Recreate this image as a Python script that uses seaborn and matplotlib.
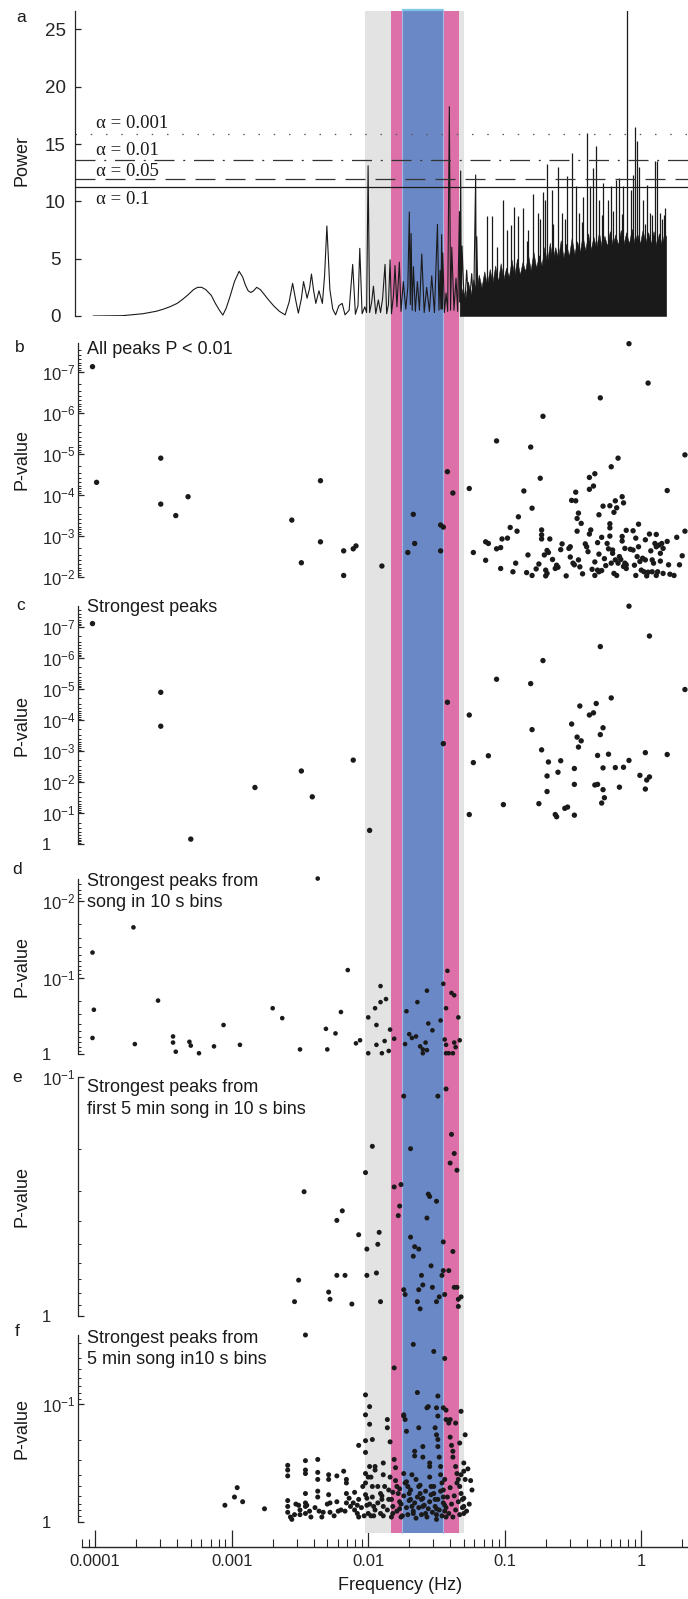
import numpy as np
import matplotlib
matplotlib.use("Agg")
import matplotlib.pyplot as plt
import seaborn as sns
from matplotlib.ticker import (FixedLocator, LogLocator, FuncFormatter,
                               NullFormatter, FixedFormatter, NullLocator)

# ---------------- data (log10 units) ----------------
# frequency bands (Hz)
grey_band = (0.00948, 0.0503)
pink_band = (0.01469, 0.0463)
blue_band = (0.01759, 0.0351)

# significance thresholds of the periodogram
alpha_labels = ["α = 0.001", "α = 0.01", "α = 0.05", "α = 0.1"]
alpha_power = [15.87, 13.57, 11.92, 11.22]
alpha_label_power = [16.83, 14.41, 12.58, 10.2]

# periodogram, low/mid frequency part: (log10 f, power)
spec_line = [
    (-4.016, 0.0), (-3.80, 0.03), (-3.65, 0.2), (-3.55, 0.42), (-3.50, 0.6),
    (-3.45, 0.82), (-3.40, 1.1), (-3.36, 1.45), (-3.32, 1.85), (-3.28, 2.3),
    (-3.25, 2.5), (-3.22, 2.5), (-3.19, 2.3), (-3.15, 1.8), (-3.12, 1.1),
    (-3.09, 0.5), (-3.065, 0.08), (-3.04, 0.7), (-3.01, 1.8), (-2.98, 3.0),
    (-2.946, 3.9), (-2.92, 3.4), (-2.90, 2.7), (-2.88, 2.2), (-2.86, 2.05),
    (-2.84, 2.2), (-2.817, 2.5), (-2.79, 2.3), (-2.77, 2.0), (-2.73, 1.4),
    (-2.69, 0.85), (-2.65, 0.4), (-2.609, 0.1), (-2.58, 1.2), (-2.554, 2.85),
    (-2.53, 1.3), (-2.512, 0.25), (-2.49, 1.5), (-2.474, 3.0), (-2.46, 2.2),
    (-2.448, 1.55), (-2.43, 2.4), (-2.416, 3.66), (-2.40, 2.2), (-2.384, 1.1),
    (-2.361, 2.2), (-2.336, 1.1), (-2.32, 3.5), (-2.303, 7.85), (-2.29, 4.5),
    (-2.281, 2.3), (-2.26, 0.6), (-2.239, 0.1),
    (-2.215, 0.9), (-2.191, 1.1), (-2.17, 0.1), (-2.14, 0.5), (-2.114, 4.5),
    (-2.094, 0.15), (-2.075, 0.9), (-2.062, 5.9), (-2.045, 0.2), (-2.025, 0.8),
    (-2.012, 0.3), (-2.001, 13.1), (-1.99, 0.3), (-1.975, 1.2), (-1.962, 2.6),
    (-1.945, 0.2), (-1.926, 1.4), (-1.91, 0.3), (-1.895, 1.5), (-1.877, 4.5),
    (-1.865, 0.2), (-1.852, 1.0), (-1.840, 4.9), (-1.83, 0.2), (-1.815, 1.8),
    (-1.804, 4.4), (-1.790, 0.8), (-1.772, 4.7), (-1.760, 0.4), (-1.743, 3.0),
    (-1.725, 0.6), (-1.710, 2.5), (-1.699, 9.07), (-1.692, 1.0), (-1.686, 7.2),
    (-1.678, 0.5), (-1.669, 4.3), (-1.655, 0.4), (-1.640, 3.0), (-1.625, 0.5),
    (-1.608, 5.4), (-1.590, 0.3), (-1.572, 2.5), (-1.552, 0.4), (-1.535, 3.5),
    (-1.515, 0.3), (-1.493, 8.0), (-1.482, 0.5), (-1.474, 4.0), (-1.468, 0.6),
    (-1.462, 7.1), (-1.458, 0.6), (-1.454, 5.5), (-1.442, 0.3), (-1.430, 2.0),
    (-1.418, 0.4), (-1.406, 18.26), (-1.397, 0.5), (-1.388, 6.0), (-1.372, 0.5),
    (-1.357, 3.3), (-1.345, 0.4), (-1.332, 9.1), (-1.327, 1.2), (-1.323, 12.65),
    (-1.318, 1.0), (-1.313, 6.1), (-1.295, 0.5), (-1.279, 4.0), (-1.262, 0.6),
    (-1.242, 3.7), (-1.228, 0.8), (-1.213, 12.3), (-1.209, 1.0), (-1.205, 6.9),
    (-1.195, 0.5),
]

# dense high-frequency body of the periodogram: upper envelope
dense_logf = [-1.33, -1.31, -1.29, -1.27, -1.25, -1.23, -1.21, -1.19, -1.17, -1.15,
              -1.13, -1.11, -1.09, -1.07, -1.05, -1.03, -1.01, -0.99, -0.97, -0.95,
              -0.93, -0.91, -0.89, -0.87, -0.85, -0.83, -0.81, -0.79, -0.77, -0.75,
              -0.73, -0.71, -0.69, -0.67, -0.65, -0.63, -0.61, -0.59, -0.57, -0.55,
              -0.53, -0.51, -0.49, -0.47, -0.45, -0.43, -0.41, -0.39, -0.37, -0.35,
              -0.33, -0.31, -0.29, -0.27, -0.25, -0.23, -0.21, -0.19, -0.17, -0.15,
              -0.13, -0.11, -0.09, -0.07, -0.05, -0.03, -0.01, 0.01, 0.03, 0.05,
              0.07, 0.09, 0.11, 0.13, 0.15, 0.17, 0.182]
dense_top = [1.2, 2.4, 1.5, 3.0, 1.9, 3.2, 2.2, 3.6, 2.5, 3.9,
             2.7, 4.1, 2.9, 4.4, 3.0, 4.6, 3.2, 4.2, 3.4, 4.9,
             3.5, 5.0, 3.6, 4.7, 3.9, 5.4, 4.0, 5.6, 4.2, 5.3,
             4.4, 6.0, 4.6, 6.4, 4.8, 6.0, 5.0, 6.6, 5.1, 6.3,
             5.2, 6.8, 5.4, 6.5, 5.6, 7.0, 5.7, 7.2, 5.8, 6.9,
             5.9, 7.3, 6.0, 7.0, 6.1, 7.4, 6.2, 7.1, 6.2, 7.5,
             6.3, 7.3, 6.3, 7.6, 6.4, 7.2, 6.3, 7.5, 6.4, 7.3,
             6.3, 7.4, 6.2, 7.2, 6.2, 7.3, 6.9]

# individual spikes standing out of the dense body: (log10 f, power)
spikes = [
    (-1.132, 8.7), (-1.091, 8.7), (-1.059, 6.0), (-1.015, 10.1), (-0.986, 7.5),
    (-0.956, 7.9), (-0.929, 9.5), (-0.900, 8.7), (-0.863, 9.4), (-0.839, 6.5),
    (-0.827, 7.5), (-0.790, 10.6), (-0.754, 9.0), (-0.741, 8.5), (-0.722, 10.8),
    (-0.702, 10.1), (-0.692, 13.3), (-0.656, 11.0), (-0.644, 8.0), (-0.612, 13.0),
    (-0.583, 9.0), (-0.558, 8.5), (-0.546, 12.2), (-0.509, 14.2), (-0.478, 11.3),
    (-0.453, 9.0), (-0.436, 8.2), (-0.424, 10.4), (-0.399, 16.0), (-0.375, 11.3),
    (-0.351, 12.9), (-0.333, 14.8), (-0.307, 10.1), (-0.290, 8.8), (-0.277, 11.6),
    (-0.241, 10.1), (-0.224, 11.3), (-0.204, 9.2), (-0.185, 11.9), (-0.160, 12.0),
    (-0.143, 8.9), (-0.131, 11.3), (-0.106, 27.0), (-0.077, 11.0), (-0.062, 12.3),
    (-0.045, 16.5), (-0.033, 15.3), (-0.014, 13.0), (0.011, 10.1), (0.028, 8.0),
    (0.040, 11.4), (0.065, 9.0), (0.077, 8.8), (0.101, 13.5), (0.118, 13.5),
    (0.138, 9.0), (0.150, 8.5), (0.167, 8.8), (0.177, 9.4),
]

# panel b: all peaks P < 0.01 (log10 f, log10 P)
b_points = [
    (-4.02, -7.12), (-3.99, -4.30), (-3.52, -4.89), (-3.52, -3.77), (-3.41, -3.49),
    (-3.32, -3.95), (-2.56, -3.38), (-2.35, -4.34), (-2.35, -2.85), (-2.49, -2.34),
    (-2.18, -2.63), (-2.11, -2.68), (-2.09, -2.75), (-2.18, -2.03), (-1.90, -2.26),
    (-1.67, -3.52), (-1.66, -2.81), (-1.71, -2.59), (-1.47, -2.63), (-1.47, -3.26),
    (-1.45, -3.21), (-1.42, -4.56), (-1.38, -4.04),
    (-1.26, -4.15), (-1.23, -2.59), (-1.14, -2.40), (-1.14, -2.85), (-1.12, -2.81),
    (-1.06, -5.31), (-1.06, -2.68), (-1.03, -2.71), (-1.03, -2.20), (-1.02, -2.92),
    (-0.98, -2.94), (-0.96, -3.20), (-0.94, -2.12), (-0.92, -2.33), (-0.91, -3.11),
    (-0.90, -3.46), (-0.86, -4.09), (-0.84, -2.10), (-0.83, -2.53), (-0.81, -5.16),
    (-0.80, -3.67), (-0.77, -2.19), (-0.75, -2.31), (-0.74, -4.40), (-0.73, -3.14),
    (-0.73, -3.02), (-0.72, -5.91), (-0.73, -2.92), (-0.71, -2.53), (-0.70, -2.16),
    (-0.69, -2.08), (-0.69, -2.64), (-0.68, -2.59), (-0.67, -2.92), (-0.65, -2.42),
    (-0.63, -2.20), (-0.62, -2.28), (-0.61, -2.23), (-0.59, -2.66), (-0.58, -2.80),
    (-0.55, -2.02), (-0.53, -2.69), (-0.52, -2.73), (-0.52, -2.48), (-0.50, -2.33),
    (-0.51, -3.86), (-0.49, -2.29), (-0.48, -3.85), (-0.48, -4.06), (-0.47, -3.42),
    (-0.46, -3.55), (-0.47, -3.11), (-0.46, -2.41), (-0.45, -2.24), (-0.44, -3.30),
    (-0.43, -2.07), (-0.41, -2.80), (-0.40, -2.73), (-0.39, -2.61), (-0.38, -3.04),
    (-0.38, -4.13), (-0.38, -4.42), (-0.37, -3.14), (-0.36, -2.18), (-0.35, -4.21),
    (-0.34, -2.36), (-0.34, -4.51), (-0.32, -2.16), (-0.32, -2.83), (-0.31, -2.55),
    (-0.31, -3.51), (-0.31, -2.12), (-0.30, -6.36), (-0.29, -2.15), (-0.29, -2.96),
    (-0.28, -3.72), (-0.27, -2.44), (-0.26, -2.27), (-0.25, -2.81), (-0.24, -2.68),
    (-0.23, -3.29), (-0.23, -3.19), (-0.23, -2.99), (-0.22, -4.68), (-0.23, -3.73),
    (-0.22, -2.33), (-0.21, -2.57), (-0.21, -2.65), (-0.20, -3.57), (-0.20, -2.08),
    (-0.19, -2.41), (-0.19, -3.85), (-0.18, -3.68), (-0.17, -4.89), (-0.17, -2.33),
    (-0.16, -2.49), (-0.15, -2.42), (-0.14, -2.87), (-0.14, -3.95), (-0.14, -2.98),
    (-0.13, -2.25), (-0.13, -3.80), (-0.12, -2.69), (-0.12, -2.33), (-0.11, -2.29),
    (-0.11, -3.13), (-0.11, -2.20), (-0.09, -7.68), (-0.08, -2.67), (-0.06, -2.65),
    (-0.06, -3.12), (-0.05, -2.28), (-0.04, -2.94), (-0.03, -2.49), (-0.02, -3.28),
    (-0.02, -2.73), (-0.01, -2.37), (0.00, -2.16), (0.01, -2.45), (0.02, -2.12),
    (0.03, -2.90), (0.03, -2.41), (0.05, -6.72), (0.05, -2.11), (0.06, -3.04),
    (0.07, -2.63), (0.08, -2.41), (0.08, -2.12), (0.09, -2.33), (0.10, -2.81),
    (0.11, -3.03), (0.11, -2.73), (0.12, -2.12), (0.13, -2.77), (0.14, -2.57),
    (0.14, -2.38), (0.15, -2.81), (0.16, -2.08), (0.16, -2.69), (0.19, -4.10),
    (0.19, -2.86), (0.20, -2.29), (0.21, -2.06), (0.24, -2.03), (0.26, -2.96),
    (0.28, -2.29), (0.30, -2.51), (0.32, -4.97), (0.32, -3.11),
    (-0.80, -2.03), (-0.70, -2.02), (-0.34, -2.03), (-0.18, -2.03), (-0.04, -2.03),
    (0.04, -2.02), (0.11, -2.03),
]

# panel c: strongest peaks
c_points = [
    (-4.02, -7.10), (-3.52, -4.89), (-3.52, -3.80), (-3.30, -0.17), (-2.83, -1.83),
    (-2.49, -2.36), (-2.41, -1.53), (-2.11, -2.71), (-1.99, -0.45), (-1.45, -3.24),
    (-1.42, -4.57), (-1.26, -0.96), (-1.26, -4.16), (-1.23, -2.63), (-1.12, -2.85),
    (-1.06, -5.31), (-1.01, -1.28), (-0.81, -5.17), (-0.80, -3.69), (-0.75, -1.31),
    (-0.73, -3.04), (-0.72, -5.91), (-0.69, -2.20), (-0.69, -1.70), (-0.68, -2.65),
    (-0.63, -0.96), (-0.62, -0.89), (-0.61, -2.32), (-0.59, -2.69), (-0.56, -1.16),
    (-0.54, -1.20), (-0.51, -3.87), (-0.49, -2.44), (-0.49, -0.94), (-0.49, -1.93),
    (-0.47, -3.45), (-0.46, -3.13), (-0.45, -4.45), (-0.44, -3.33), (-0.38, -4.16),
    (-0.35, -4.23), (-0.33, -4.53), (-0.34, -1.91), (-0.32, -1.93), (-0.32, -2.86),
    (-0.30, -3.53), (-0.30, -6.36), (-0.29, -1.33), (-0.28, -1.76), (-0.28, -3.75),
    (-0.28, -2.46), (-0.27, -1.50), (-0.24, -2.90), (-0.22, -4.71), (-0.19, -2.47),
    (-0.16, -1.84), (-0.13, -2.48), (-0.09, -7.66), (-0.09, -2.70), (-0.01, -2.22),
    (0.03, -2.95), (0.03, -1.78), (0.04, -2.07), (0.06, -6.70), (0.06, -2.17),
    (0.19, -2.89), (0.32, -4.98),
]

# panel d: strongest peaks from song in 10 s bins
d_points = [
    (-4.02, -1.33), (-4.01, -0.58), (-4.02, -0.21), (-3.72, -1.66), (-3.71, -0.13),
    (-3.54, -0.70), (-3.43, -0.23), (-3.43, -0.15), (-3.41, -0.03), (-3.31, -0.16),
    (-3.30, -0.11), (-3.24, -0.01), (-3.13, -0.10), (-3.06, -0.38), (-2.94, -0.12),
    (-2.70, -0.60), (-2.63, -0.47), (-2.50, -0.06), (-2.37, -2.30), (-2.31, -0.33),
    (-2.30, -0.06), (-2.24, -0.27), (-2.20, -0.55), (-2.15, -1.10), (-2.09, -0.14),
    (-2.06, -0.18), (-2.00, -0.01), (-2.00, -0.48), (-1.95, -0.60), (-1.94, -0.38),
    (-1.94, -0.12), (-1.91, -0.89), (-1.91, -0.68), (-1.90, -0.01), (-1.88, -0.17),
    (-1.87, -0.72), (-1.85, -0.04), (-1.84, -0.32), (-1.81, -0.20), (-1.73, -0.13),
    (-1.72, -0.56), (-1.70, -0.26), (-1.68, -0.21), (-1.65, -0.23), (-1.64, -0.68),
    (-1.62, -0.10), (-1.60, -0.06), (-1.60, -0.01), (-1.58, -0.15), (-1.57, -0.83),
    (-1.57, -0.05), (-1.56, -0.40), (-1.53, -0.31), (-1.47, -0.44), (-1.45, -0.92),
    (-1.43, -0.60), (-1.44, -0.19), (-1.43, -0.12), (-1.43, -0.01), (-1.42, -1.09),
    (-1.41, -0.01), (-1.39, -0.80), (-1.38, -0.01), (-1.37, -0.77), (-1.37, -0.15),
    (-1.36, -0.09), (-1.34, -0.48), (-1.33, -0.18),
]

# panel e: strongest peaks from first 5 min song in 10 s bins
e_points = [
    (-2.47, -0.52), (-2.51, -0.15), (-2.29, -0.10), (-2.28, -0.07), (-2.23, -0.40),
    (-2.19, -0.44), (-2.23, -0.17), (-2.17, -0.17), (-2.07, -0.34), (-2.02, -0.60),
    (-1.97, -0.71), (-2.01, -0.28), (-2.01, -0.17), (-1.94, -0.18), (-1.93, -0.30),
    (-1.92, -0.35), (-1.81, -0.54), (-1.76, -0.55), (-1.78, -0.42), (-1.77, -0.46),
    (-1.74, -0.92), (-1.69, -0.70), (-1.69, -0.33), (-1.66, -0.29), (-1.63, -0.28),
    (-1.67, -0.25), (-1.57, -0.41), (-1.56, -0.51), (-1.55, -0.50), (-1.50, -0.48),
    (-1.54, -0.21), (-1.61, -0.17), (-1.60, -0.13), (-1.63, -0.11), (-1.53, -0.12),
    (-1.74, -0.11), (-1.73, -0.09), (-1.49, -0.92), (-1.45, -0.31), (-1.45, -0.19),
    (-1.46, -0.17), (-1.41, -0.19), (-1.39, -0.76), (-1.37, -0.68), (-1.40, -0.64),
    (-1.35, -0.61), (-1.38, -0.27), (-1.37, -0.12), (-1.35, -0.12), (-1.44, -0.09),
    (-1.48, -0.08), (-1.32, -0.08), (-1.34, -0.07), (-1.43, -0.95), (-2.54, -0.06),
    (-2.12, -0.05), (-1.91, -0.06), (-1.64, -0.06), (-1.62, -0.03), (-1.50, -0.06),
    (-1.34, -0.04),
]

# panel f: strongest peaks from 5 min song in 10 s bins
f_points = [
    (-2.46, -1.59), (-3.05, -0.14), (-2.98, -0.21), (-2.96, -0.29), (-2.92, -0.17),
    (-2.76, -0.11), (-2.59, -0.48), (-2.59, -0.44), (-2.59, -0.39), (-2.59, -0.18),
    (-2.59, -0.13), (-2.59, -0.08), (-2.57, -0.04), (-2.54, -0.06), (-2.51, -0.14),
    (-2.50, -0.06), (-2.46, -0.52), (-2.46, -0.44), (-2.46, -0.41), (-2.46, -0.24),
    (-2.46, -0.16), (-2.46, -0.13), (-2.46, -0.07), (-2.45, -0.14), (-2.43, -0.09),
    (-2.37, -0.53), (-2.37, -0.42), (-2.37, -0.36), (-2.37, -0.26), (-2.37, -0.21),
    (-2.36, -0.09), (-2.34, -0.04), (-2.29, -0.40), (-2.29, -0.36), (-2.29, -0.23),
    (-2.28, -0.16), (-2.28, -0.08), (-2.23, -0.39), (-2.23, -0.17), (-2.22, -0.09),
    (-2.18, -0.43), (-2.16, -0.36), (-2.16, -0.33), (-2.16, -0.24), (-2.16, -0.16),
    (-2.17, -0.09), (-2.13, -0.13), (-2.11, -0.16), (-2.10, -0.10), (-2.08, -0.14),
    (-2.07, -0.04), (-2.07, -0.19), (-2.07, -0.65), (-2.02, -1.08), (-2.02, -0.91),
    (-2.02, -0.59), (-2.02, -0.69), (-2.02, -0.41), (-2.02, -0.33), (-2.02, -0.23),
    (-2.01, -0.14), (-2.00, -0.07), (-1.99, -0.98), (-1.99, -0.83), (-1.97, -0.70),
    (-1.99, -0.47), (-1.98, -0.38), (-1.97, -0.30), (-1.97, -0.21), (-1.96, -0.13),
    (-1.96, -0.05), (-1.95, -0.47), (-1.95, -0.44), (-1.93, -0.30), (-1.91, -0.24),
    (-1.90, -0.19), (-1.89, -0.13), (-1.89, -0.05), (-1.89, -0.50), (-1.89, -0.40),
    (-1.86, -0.87), (-1.86, -0.80), (-1.84, -0.68), (-1.84, -0.38), (-1.85, -0.27),
    (-1.83, -0.19), (-1.82, -0.13), (-1.82, -0.07), (-1.81, -1.31), (-1.81, -0.53),
    (-1.80, -0.46), (-1.79, -0.30), (-1.78, -0.24), (-1.77, -0.17), (-1.77, -0.11),
    (-1.76, -0.04), (-1.74, -0.91), (-1.74, -0.90), (-1.73, -0.87), (-1.72, -0.77),
    (-1.74, -0.41), (-1.72, -0.34), (-1.71, -0.30), (-1.70, -0.24), (-1.69, -0.19),
    (-1.68, -0.13), (-1.67, -0.07), (-1.67, -1.51), (-1.66, -0.60), (-1.66, -0.56),
    (-1.64, -1.10), (-1.63, -0.80), (-1.65, -0.36), (-1.63, -0.30), (-1.62, -0.24),
    (-1.61, -0.19), (-1.60, -0.13), (-1.58, -0.07), (-1.60, -0.64), (-1.60, -0.55),
    (-1.57, -0.97), (-1.56, -0.98), (-1.55, -0.50), (-1.55, -0.47), (-1.55, -0.38),
    (-1.54, -0.30), (-1.52, -0.24), (-1.51, -0.19), (-1.50, -0.11), (-1.50, -0.06),
    (-1.52, -1.45), (-1.50, -0.97), (-1.49, -1.07), (-1.49, -0.90), (-1.50, -0.74),
    (-1.49, -0.70), (-1.49, -0.64), (-1.51, -0.80), (-1.48, -0.55), (-1.47, -0.47),
    (-1.47, -0.40), (-1.46, -0.33), (-1.45, -0.27), (-1.45, -0.21), (-1.44, -0.14),
    (-1.44, -0.09), (-1.43, -0.04), (-1.44, -1.39), (-1.45, -0.97), (-1.43, -0.95),
    (-1.43, -0.87), (-1.41, -0.84), (-1.40, -0.87), (-1.40, -0.72), (-1.39, -0.65),
    (-1.38, -0.60), (-1.38, -0.55), (-1.36, -0.84), (-1.36, -0.47), (-1.35, -0.41),
    (-1.34, -0.36), (-1.33, -0.30), (-1.32, -0.24), (-1.31, -0.19), (-1.30, -0.13),
    (-1.30, -0.07), (-1.32, -0.94), (-1.29, -0.74), (-1.33, -0.67), (-1.30, -0.50),
    (-1.30, -0.43), (-1.29, -0.36), (-1.24, -0.27),
    (-1.98, -0.05), (-1.95, -0.10), (-1.93, -0.16), (-1.91, -0.07), (-1.90, -0.22),
    (-1.88, -0.30), (-1.86, -0.10), (-1.85, -0.19), (-1.83, -0.04), (-1.82, -0.25),
    (-1.80, -0.35), (-1.79, -0.09), (-1.77, -0.28), (-1.76, -0.15), (-1.75, -0.05),
    (-1.74, -0.22), (-1.73, -0.33), (-1.72, -0.12), (-1.71, -0.06), (-1.70, -0.18),
    (-1.69, -0.27), (-1.68, -0.40), (-1.67, -0.09), (-1.66, -0.16), (-1.65, -0.03),
    (-1.64, -0.21), (-1.63, -0.12), (-1.62, -0.31), (-1.61, -0.06), (-1.60, -0.20),
    (-1.59, -0.14), (-1.58, -0.26), (-1.57, -0.04), (-1.56, -0.11), (-1.55, -0.17),
    (-1.54, -0.23), (-1.53, -0.08), (-1.52, -0.30), (-1.51, -0.13), (-1.50, -0.02),
    (-1.49, -0.19), (-1.48, -0.10), (-1.47, -0.26), (-1.46, -0.05), (-1.45, -0.16),
    (-1.44, -0.36), (-1.43, -0.12), (-1.42, -0.21), (-1.41, -0.07), (-1.40, -0.29),
    (-1.39, -0.15), (-1.38, -0.04), (-1.37, -0.22), (-1.36, -0.10), (-1.35, -0.33),
    (-1.34, -0.17), (-1.33, -0.06), (-1.32, -0.40), (-1.31, -0.12), (-1.30, -0.20),
    (-1.28, -0.09), (-1.26, -0.15), (-1.25, -0.35), (-1.27, -0.45),
    (-2.05, -0.12), (-2.04, -0.30), (-2.03, -0.05), (-2.01, -0.20), (-2.00, -0.38),
    (-1.99, -0.15), (-2.08, -0.07), (-2.10, -0.25), (-2.14, -0.20), (-2.20, -0.10),
    (-2.25, -0.05), (-2.30, -0.15), (-2.33, -0.08), (-2.39, -0.12), (-2.42, -0.04),
    (-2.50, -0.10), (-2.53, -0.15), (-2.56, -0.02),
]

x_ticks = [1e-4, 1e-3, 1e-2, 1e-1, 1]
x_ticklabels = ["0.0001", "0.001", "0.01", "0.1", "1"]

# ---------------- style ----------------
sns.set_style("ticks")
plt.rcParams["font.family"] = ["Liberation Sans", "DejaVu Sans"]
plt.rcParams["mathtext.fontset"] = "custom"
plt.rcParams["mathtext.rm"] = "Liberation Sans"
plt.rcParams["mathtext.it"] = "Liberation Sans:italic"
plt.rcParams["mathtext.default"] = "regular"
plt.rcParams["text.color"] = "#1a1a1a"

INK = "#1a1a1a"
W, H = 688, 1599
fig = plt.figure(figsize=(W / 100, H / 100), dpi=100)
XLIM = (8.0e-5, 2.2)


def rect(top, bottom, left=82, right=688):
    return [left / W, 1 - bottom / H, (right - left) / W, (bottom - top) / H]


def ftext(x, y, s, **kw):
    return fig.text(x / W, 1 - y / H, s, **kw)


# ---------------- background bands + shared frequency axis ----------------
bg = fig.add_axes(rect(9, 1546.7))
bg.set_xscale("log")
bg.set_xlim(XLIM)
bg.set_ylim(0, 1)
yb = (1546.7 - 1533) / (1546.7 - 9)
yt = (1546.7 - 11) / (1546.7 - 9)
bg.axvspan(*grey_band, ymin=yb, ymax=yt, color="#e2e3e2", lw=0)
bg.axvspan(*pink_band, ymin=yb, ymax=yt, color="#dd70a9", lw=0)
bg.axvspan(*blue_band, ymin=yb, ymax=1, color="#6b88c6", lw=0)
for xv in blue_band:
    bg.plot([xv, xv], [yb, 1], color="#a4b8e4", lw=0.8)
bg.plot(list(blue_band), [0.9995, 0.9995], color="#7cc7ea", lw=1.6,
        solid_capstyle="butt", clip_on=False)
for s in ["top", "right", "left"]:
    bg.spines[s].set_visible(False)
bg.spines["bottom"].set_linewidth(1.0)
bg.set_yticks([])
bg.xaxis.set_major_locator(FixedLocator(x_ticks))
bg.xaxis.set_major_formatter(FixedFormatter(x_ticklabels))
bg.xaxis.set_minor_locator(LogLocator(base=10, subs=np.arange(2, 10) * 1.0, numticks=60))
bg.xaxis.set_minor_formatter(NullFormatter())
bg.tick_params(axis="x", which="major", direction="in", length=12, width=0.9,
               labelsize=12, pad=5)
bg.tick_params(axis="x", which="minor", direction="in", length=6, width=0.8)
ftext(400, 1585, "Frequency (Hz)", ha="center", va="center", fontsize=13)


def panel(top, bottom, outward):
    ax = fig.add_axes(rect(top, bottom))
    ax.patch.set_visible(False)
    ax.set_xscale("log")
    for s in ["top", "right", "bottom"]:
        ax.spines[s].set_visible(False)
    ax.spines["left"].set_position(("outward", outward))
    ax.spines["left"].set_linewidth(0.9)
    return ax


def finish_x(ax):
    ax.set_xlim(XLIM)
    ax.xaxis.set_major_locator(NullLocator())
    ax.xaxis.set_minor_locator(NullLocator())
    ax.set_xlabel("")
    ax.set_ylabel("")


def pfmt(v, pos):
    if abs(v - 1) < 1e-9:
        return "1"
    return r"$10^{%d}$" % int(round(np.log10(v)))


def log_axis(ax, top, bottom, majors):
    ax.set_yscale("log")
    ax.set_ylim(bottom, top)
    ax.yaxis.set_major_locator(FixedLocator(majors))
    ax.yaxis.set_minor_locator(LogLocator(base=10, subs=np.arange(2, 10) * 1.0, numticks=60))
    ax.yaxis.set_major_formatter(FuncFormatter(pfmt))
    ax.yaxis.set_minor_formatter(NullFormatter())
    ax.tick_params(axis="y", which="major", direction="in", length=4, width=0.9,
                   labelsize=12, pad=25.8)
    ax.tick_params(axis="y", which="minor", direction="in", length=2.2, width=0.7)
    plt.setp(ax.get_yticklabels(), ha="left")


# ---------------- panel a: periodogram ----------------
ax = panel(11, 316, 4.7)
spec = np.array(spec_line)
sns.lineplot(x=10 ** spec[:, 0], y=spec[:, 1], sort=False, estimator=None,
             color=INK, lw=0.8, ax=ax)
ax.fill_between(10 ** np.array(dense_logf), 0, dense_top, color=INK, lw=0.4)
sp = np.array(spikes)
ax.vlines(10 ** sp[:, 0], 0, sp[:, 1], color=INK, lw=0.9)
ax.set_ylim(0, 26.6)
ax.set_yticks([0, 5, 10, 15, 20, 25])
ax.tick_params(axis="y", direction="in", length=4, width=0.9, labelsize=13.5, pad=14.5)
plt.setp(ax.get_yticklabels(), ha="center")
finish_x(ax)
x0 = (75.4 - 82) / 606
styles = [((0, (1.2, 11)), "#555555"), ((0, (16, 7, 1.6, 7)), "#333333"),
          ((0, (16, 8)), "#333333"), ("-", INK)]
for val, (ls, col) in zip(alpha_power, styles):
    ax.axhline(val, xmin=x0, xmax=1, ls=ls, color=col, lw=0.9, clip_on=False)
for lab, yv in zip(alpha_labels, alpha_label_power):
    ax.text(1.02e-4, yv, lab, ha="left", va="center", fontsize=13.5,
            family=["Liberation Serif", "DejaVu Serif"], color=INK)
ftext(22, 160, "Power", rotation=90, ha="center", va="center", fontsize=13)

# ---------------- scatter panels ----------------
panels = [
    ("b", b_points, 343.3, 576.7, 10 ** -7.69, 1e-2,
     [1e-7, 1e-6, 1e-5, 1e-4, 1e-3, 1e-2], 15, ["All peaks P < 0.01"], [350]),
    ("c", c_points, 605.7, 844.4, 10 ** -7.675, 1.0,
     [1e-7, 1e-6, 1e-5, 1e-4, 1e-3, 1e-2, 1e-1, 1], 15, ["Strongest peaks"], [607.3]),
    ("d", d_points, 879.3, 1054, 10 ** -2.29, 1.0, [1e-2, 1e-1, 1], 11,
     ["Strongest peaks from", "song in 10 s bins"], [881.7, 902.7]),
    ("e", e_points, 1077, 1316, 0.1, 1.0, [1e-1, 1], 13,
     ["Strongest peaks from", "first 5 min song in 10 s bins"], [1088, 1110]),
    ("f", f_points, 1335, 1521.7, 10 ** -1.59, 1.0, [1e-1, 1], 13,
     ["Strongest peaks from", "5 min song in10 s bins"], [1338.3, 1359.3]),
]
for letter, pts, top, bot, ytop, ybot, majors, size, titles, ty in panels:
    ax = panel(top, bot, 3.2)
    arr = np.array(pts)
    sns.scatterplot(x=10 ** arr[:, 0], y=10 ** arr[:, 1], s=size, color=INK,
                    edgecolor="none", linewidth=0, ax=ax, clip_on=False, zorder=3)
    log_axis(ax, ytop, ybot, majors)
    finish_x(ax)
    ftext(22, (top + bot) / 2, "P-value", rotation=90, ha="center", va="center",
          fontsize=13)
    for t, y in zip(titles, ty):
        ftext(86.8, y, t, ha="left", va="center", fontsize=13)

# panel letters
for letter, (lx, ly) in zip("abcdef", [(21, 17), (20, 347), (21, 606), (17.5, 870),
                                       (17.5, 1078), (16.7, 1332)]):
    ftext(lx, ly, letter, ha="center", va="center", fontsize=12.5)

fig.savefig("out.png", dpi=100)
